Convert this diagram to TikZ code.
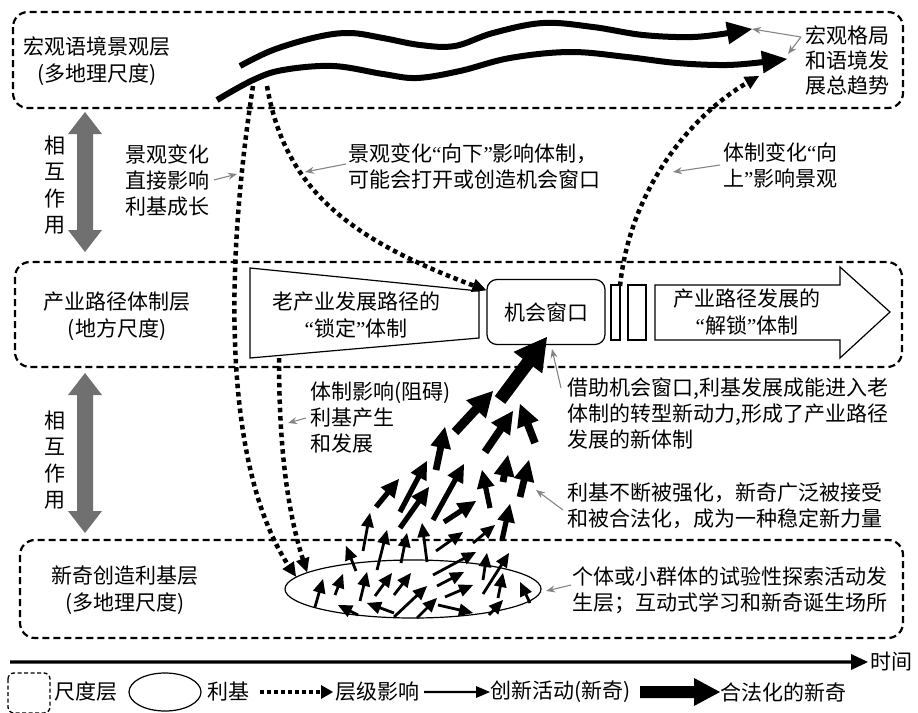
\documentclass[tikz,border=0pt]{standalone}
\usepackage{fontspec}
\setmainfont{Noto Sans CJK SC}
\newfontfamily\qfont{Liberation Serif}
\newcommand\oq{{\qfont “}}
\newcommand\cq{{\qfont ”}}
\usetikzlibrary{calc,shapes.geometric,arrows.meta}
\definecolor{gline}{HTML}{858585}
\definecolor{gbar}{HTML}{707070}
% filled arrow: tail, tip, half shaft, half head width, head length
\newcommand\farr[5]{%
  \fill ($(#1)!#3!90:(#2)$) -- ($($(#2)!#5!(#1)$)!#3!90:(#2)$) -- ($($(#2)!#5!(#1)$)!#4!90:(#2)$) -- (#2) -- ($($(#2)!#5!(#1)$)!#4!-90:(#2)$) -- ($($(#2)!#5!(#1)$)!#3!-90:(#2)$) -- ($(#1)!#3!-90:(#2)$) -- cycle;}
% triangle tip: direction point, tip, half width, length
\newcommand\tipp[4]{%
  \fill (#2) -- ($($(#2)!#4!(#1)$)!#3!90:(#2)$) -- ($($(#2)!#4!(#1)$)!#3!-90:(#2)$) -- cycle;}
\newcommand\tarr[2]{\farr{#1}{#2}{1.4pt}{6.5pt}{14pt}}
\newcommand\marr[2]{\farr{#1}{#2}{2.6pt}{9pt}{18pt}}
\newcommand\Marr[2]{\farr{#1}{#2}{3.4pt}{10.5pt}{21pt}}
\begin{document}
\begin{tikzpicture}[x=1pt,y=-1pt,
  layer/.style={line width=2.2pt, dash pattern=on 7pt off 4pt, rounded corners=15pt},
  txt/.style={font=\fontsize{21}{27}\selectfont, align=center, inner sep=0pt},
  note/.style={font=\fontsize{21}{26}\selectfont, align=left, inner sep=0pt, anchor=west},
  lg/.style={font=\fontsize{21}{24}\selectfont, inner sep=0pt, anchor=west},
  dots/.style={line width=4.5pt, dash pattern=on 4.5pt off 3.8pt},
  wave/.style={line width=6pt},
  garr/.style={draw=gline, line width=1.1pt, -{Stealth[length=9pt,width=7pt]}},
  thinbox/.style={draw, line width=1.2pt}]
\useasboundingbox (0,0) rectangle (918,712);

% layers
\draw[layer] (13,12) rectangle (903,108);
\draw[layer] (15,262) rectangle (902,367);
\draw[layer] (20,540) rectangle (903,638);

% layer labels
\node[txt] (Lmacro) at (97,61) {宏观语境景观层\\(多地理尺度)};
\node[txt] (Lregime) at (117,316) {产业路径体制层\\(地方尺度)};
\node[txt] (Lniche) at (125,590) {新奇创造利基层\\(多地理尺度)};

% interaction arrows
\node[txt, font=\fontsize{21}{26.5}\selectfont] (I1) at (55,185) {相\\互\\作\\用};
\node[txt, font=\fontsize{21}{26.5}\selectfont] (I2) at (55,460) {相\\互\\作\\用};
\coordinate (a1m) at (85,182); \coordinate (a1t) at (85,112); \coordinate (a1b) at (85,252);
\coordinate (a2m) at (85,453); \coordinate (a2t) at (85,373); \coordinate (a2b) at (85,533);
\begin{scope}[gbar]
\farr{a1m}{a1t}{8pt}{17pt}{22pt}
\farr{a1m}{a1b}{8pt}{17pt}{22pt}
\farr{a2m}{a2t}{8pt}{17pt}{22pt}
\farr{a2m}{a2b}{8pt}{17pt}{22pt}
\end{scope}

% regime layer shapes
\draw[thinbox] (250,268) -- (479,291) -- (479,338) -- (250,358) -- cycle;
\node[txt] (old) at (356,315) {老产业发展路径的\\\oq 锁定\cq 体制};
\node[thinbox, rounded corners=10pt, minimum width=118pt, minimum height=65pt, font=\fontsize{21}{26}\selectfont] (win) at (546,312) {机会窗口};
\draw[thinbox] (611,285) rectangle (620,340);
\draw[thinbox] (628,285) rectangle (646,340);
\draw[thinbox] (655,285) -- (840,285) -- (840,267) -- (890,312) -- (840,358) -- (840,340) -- (655,340) -- cycle;
\node[txt] (new) at (747,312) {产业路径发展的\\\oq 解锁\cq 体制};

% niche ellipse
\node[draw, ellipse, line width=1.2pt, minimum width=256pt, minimum height=58pt, inner sep=0pt] (niche) at (413,589) {};

% landscape waves
\draw[wave] plot[smooth, tension=0.6] coordinates {(240,66) (273,50) (317,37) (350,33) (383,38) (420,45) (455,46) (493,33) (543,23) (593,27) (643,35) (693,37) (731,32.6)};
\tipp{727,33}{752,29}{11.5pt}{25pt}
\draw[wave] plot[smooth, tension=0.6] coordinates {(217,100) (253,80) (283,70) (333,66) (383,74) (417,78) (460,71) (510,58) (570,52) (627,57) (677,63) (727,65) (766,61.7)};
\tipp{762,62}{787,59}{11.5pt}{25pt}

% trend text
\node[txt, font=\fontsize{21}{25}\selectfont] (trend) at (847,60) {宏观格局\\和语境发\\展总趋势};

% notes
\node[note] (n1) at (125,180) {景观变化\\直接影响\\利基成长};
\node[note] (n2) at (348,166) {景观变化\oq 向下\cq 影响体制，\\可能会打开或创造机会窗口};
\node[note] (n3) at (723,165) {体制变化\oq 向\\上\cq 影响景观};
\node[note] (n4) at (310,418) {体制影响(阻碍)\\利基产生\\和发展};
\node[note] (n5) at (567,413) {借助机会窗口,利基发展成能进入老\\体制的转型新动力,形成了产业路径\\发展的新体制};
\node[note] (n6) at (567,506) {利基不断被强化，新奇广泛被接受\\和被合法化，成为一种稳定新力量};
\node[note] (n7) at (572,590) {个体或小群体的试验性探索活动发\\生层；互动式学习和新奇诞生场所};

% dotted connectors
\coordinate (d1s) at (253,86); \coordinate (d1a) at (220,300); \coordinate (d1b) at (230,480);
\draw[dots, shorten >=10pt] (d1s) .. controls (d1a) and (d1b) .. (niche.174);
\tipp{d1b}{niche.174}{7pt}{14pt}
\coordinate (d2s) at (267,86); \coordinate (d2a) at (285,190); \coordinate (d2b) at (350,240);
\draw[dots, shorten >=10pt] (d2s) .. controls (d2a) and (d2b) .. (win.160);
\tipp{d2b}{win.160}{7pt}{14pt}
\coordinate (d3s) at (279,358); \coordinate (d3a) at (279,460); \coordinate (d3b) at (290,520);
\draw[dots, shorten >=10pt] (d3s) .. controls (d3a) and (d3b) .. (niche.171);
\tipp{d3b}{niche.171}{7pt}{14pt}
\coordinate (d4s) at (620,286); \coordinate (d4a) at (630,190); \coordinate (d4b) at (690,115); \coordinate (d4e) at (759,76);
\draw[dots, shorten >=10pt] (d4s) .. controls (d4a) and (d4b) .. (d4e);
\tipp{d4b}{d4e}{7pt}{14pt}

% grey pointer arrows
\coordinate (g1s) at (214,180); \coordinate (g1e) at (237,174);
\draw[garr] (g1s) -- (g1e);
\coordinate (g2s) at (346,164); \coordinate (g2e) at (305,172);
\draw[garr] (g2s) -- (g2e);
\coordinate (g3s) at (720,165); \coordinate (g3e) at (673,172);
\draw[garr] (g3s) -- (g3e);
\coordinate (g4s) at (801,37); \coordinate (g4e) at (752,29); \coordinate (g4f) at (788,54);
\draw[garr] (g4s) -- (g4e);
\draw[garr] (g4s) -- (g4f);
\coordinate (g5s) at (306,418); \coordinate (g5e) at (288,423);
\draw[garr] (g5s) -- (g5e);
\coordinate (g6s) at (561,388); \coordinate (g6e) at (552,349);
\draw[garr] (g6s) -- (g6e);
\coordinate (g7s) at (563,510); \coordinate (g7e) at (536,490);
\draw[garr] (g7s) -- (g7e);
\coordinate (g8s) at (571,585); \coordinate (g8e) at (546,591);
\draw[garr] (g8s) -- (g8e);

% novelty arrows (thin)
\tarr{315,607}{323,579}
\tarr{335,595}{343,574}
\tarr{360,601}{367,572}
\tarr{375,596}{392,573}
\tarr{394,595}{411,573}
\tarr{358,615}{338,605}
\tarr{394,613}{367,603}
\tarr{394,617}{427,586}
\tarr{417,618}{437,598}
\tarr{438,605}{473,613}
\tarr{445,597}{473,585}
\tarr{437,586}{464,572}
\tarr{433,575}{476,552}
\tarr{483,580}{487,553}
\tarr{483,594}{509,553}
\tarr{498,598}{503,573}
\tarr{489,615}{503,600}
\tarr{530,603}{520,582}
\tarr{356,571}{346,546}
\tarr{363,551}{370,513}
\tarr{377,570}{387,530}
\tarr{401,563}{407,533}
\tarr{427,562}{422,523}
\tarr{436,551}{463,532}
\tarr{473,543}{495,525}
% medium
\marr{502,540}{510,504}
\marr{376,507}{399,479}
\marr{400,512}{427,461}
\marr{400,528}{429,487}
\marr{433,520}{464,464}
\marr{444,522}{476,501}
\marr{490,508}{482,470}
\Marr{520,497}{529,460}
\Marr{503,482}{508,455}
\Marr{436,470}{445,427}
% legitimised
\farr{485,452}{513,411}{3.8pt}{11.5pt}{22pt}
\farr{535,443}{520,404}{3.8pt}{11.5pt}{22pt}
\farr{455,432}{493,391}{4.5pt}{13.5pt}{25pt}
\farr{500,400}{547,337}{6.5pt}{18pt}{32pt}

% time axis
\coordinate (t0) at (10,662); \coordinate (t1) at (868,662);
\farr{t0}{t1}{1.6pt}{8pt}{17pt}
\node[lg] (time) at (870,662) {时间};

% legend
\draw[line width=1.3pt, dash pattern=on 4pt off 2.5pt, rounded corners=6pt] (8,673) rectangle (50,713);
\node[lg] (Lg1) at (54,692) {尺度层};
\node[draw, ellipse, line width=1.2pt, minimum width=72pt, minimum height=38pt, inner sep=0pt] (Lg2) at (165,692) {};
\node[lg] (Lg3) at (207,692) {利基};
\coordinate (Lg4s) at (260,692); \coordinate (Lg4e) at (333,692);
\draw[line width=4pt, dash pattern=on 4pt off 3pt, shorten >=9pt] (Lg4s) -- (Lg4e);
\tipp{Lg4s}{Lg4e}{7pt}{12pt}
\node[lg] (Lg5) at (335,692) {层级影响};
\coordinate (Lg6s) at (424,692); \coordinate (Lg6e) at (490,692);
\farr{Lg6s}{Lg6e}{1.2pt}{6pt}{14pt}
\node[lg] (Lg6) at (490,692) {创新活动(新奇)};
\coordinate (Lg7s) at (640,692); \coordinate (Lg7e) at (720,692);
\farr{Lg7s}{Lg7e}{6pt}{14pt}{26pt}
\node[lg] (Lg7) at (720,692) {合法化的新奇};
\end{tikzpicture}
\end{document}
